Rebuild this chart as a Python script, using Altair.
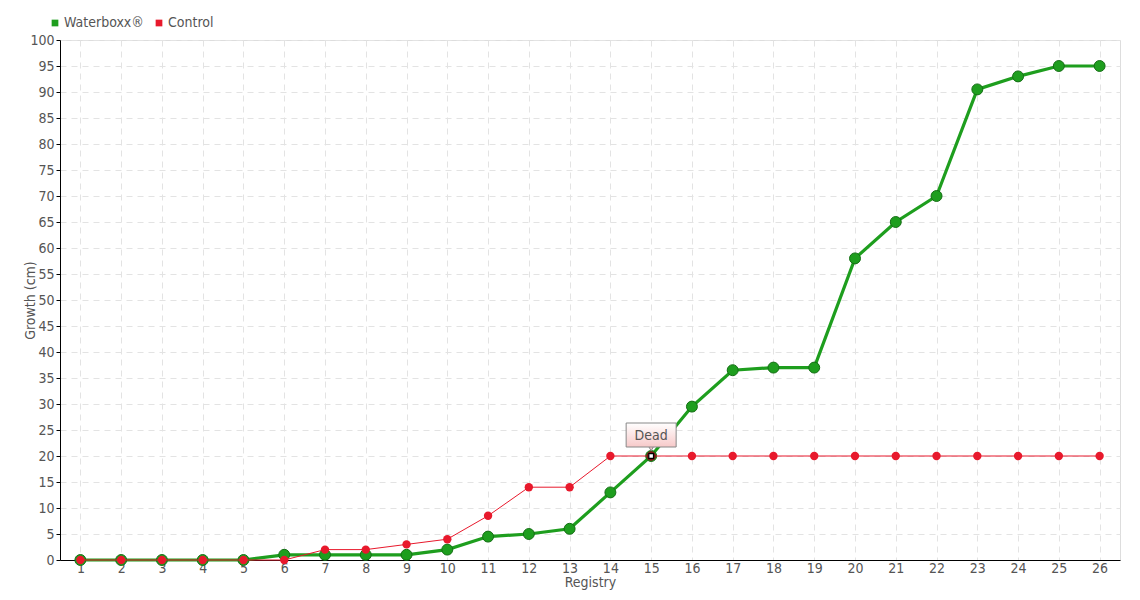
import altair as alt
import pandas as pd

registry = ["1", "2", "3", "4", "5", "6", "7", "8", "9", "10", "11", "12", "13",
            "14", "15", "16", "17", "18", "19", "20", "21", "22", "23", "24", "25", "26"]
waterboxx = [0, 0, 0, 0, 0, 1, 1, 1, 1, 2, 4.5, 5, 6, 13, 20, 29.5, 36.5, 37, 37,
             58, 65, 70, 90.5, 93, 95, 95]
control = [0, 0, 0, 0, 0, 0, 2, 2, 3, 4, 8.5, 14, 14, 20, 20, 20, 20, 20, 20,
           20, 20, 20, 20, 20, 20, 20]
series_names = ["Waterboxx®", "Control"]
series_colors = ["#1e9e1e", "#e8192c"]
y_ticks = [0, 5, 10, 15, 20, 25, 30, 35, 40, 45, 50, 55, 60, 65, 70, 75, 80, 85, 90, 95, 100]

ann_x = ["15"]
ann_y = [20]
ann_text = ["Dead"]

FONT = "DejaVu Sans Condensed, Roboto, sans-serif"
TXT = "#555555"

rows = []
for r, w in zip(registry, waterboxx):
    rows.append({"Registry": r, "Growth": w, "Series": series_names[0]})
for r, c in zip(registry, control):
    rows.append({"Registry": r, "Growth": c, "Series": series_names[1]})
df = pd.DataFrame(rows)
ann = pd.DataFrame({"Registry": ann_x, "Growth": ann_y, "Text": ann_text})

x_axis = alt.Axis(title="Registry", labelAngle=0, ticks=False,
                  grid=True, gridDash=[6, 5], gridColor="#e3e3e3",
                  domainColor="#000000", labelFont=FONT, labelFontSize=14,
                  labelColor=TXT, titleFont=FONT, titleFontSize=14,
                  titleColor=TXT, titleFontWeight="normal",
                  labelPadding=1, titlePadding=0, labelOverlap=False)
y_axis = alt.Axis(title="Growth (cm)", values=y_ticks, tickSize=4,
                  tickColor="#000000", domainColor="#000000",
                  grid=True, gridDash=[6, 5], gridColor="#e3e3e3",
                  labelFont=FONT, labelFontSize=14, labelColor=TXT,
                  labelPadding=2, titleFont=FONT, titleFontSize=14,
                  titleColor=TXT, titleFontWeight="normal",
                  titlePadding=-8, labelOverlap=False)
x_scale = alt.Scale(type="point", padding=0.5)
y_scale = alt.Scale(domain=[0, 100], nice=False)

x_enc = alt.X("Registry:O", sort=registry, scale=x_scale, axis=x_axis)
y_enc = alt.Y("Growth:Q", scale=y_scale, axis=y_axis)
color_enc = alt.Color("Series:N", scale=alt.Scale(domain=series_names, range=series_colors),
                      legend=alt.Legend(title=None, orient="none", legendX=-12, legendY=-24,
                                        direction="horizontal", symbolType="square",
                                        symbolSize=45, labelFont=FONT, labelFontSize=14,
                                        labelColor=TXT, columnPadding=8, labelOffset=2,
                                        symbolStrokeWidth=0))

base = alt.Chart(df).encode(x=x_enc, y=y_enc, color=color_enc)

green_line = base.transform_filter(alt.datum.Series == series_names[0]).mark_line(strokeWidth=3.2)
green_pts = base.transform_filter(alt.datum.Series == series_names[0]).mark_circle(
    size=120, opacity=1, stroke="#146e14", strokeWidth=1)
red_line = base.transform_filter(alt.datum.Series == series_names[1]).mark_line(strokeWidth=1)
red_pts = base.transform_filter(alt.datum.Series == series_names[1]).mark_circle(
    size=70, opacity=1)

abase = alt.Chart(ann).encode(x=x_enc, y=y_enc)
grad = alt.Gradient(gradient="linear",
                    stops=[alt.GradientStop(color="#ffffff", offset=0),
                           alt.GradientStop(color="#f7c9c9", offset=1)],
                    x1=0, x2=0, y1=0, y2=1)
dead_ring = abase.mark_point(shape="circle", size=90, filled=True, fill="#7a1212", opacity=1)
dead_sq = abase.mark_point(shape="square", size=22, filled=True, fill="#ffffff",
                           stroke="#000000", strokeWidth=1.2, opacity=1)
pointer = abase.mark_point(shape="triangle-down", size=40, filled=True, fill="#f7c9c9",
                           stroke="#888888", strokeWidth=1, opacity=1, yOffset=-8)
box = abase.mark_point(shape="M-1,-0.48H1V0.48H-1Z", size=2500, filled=True, fill=grad,
                       stroke="#888888", strokeWidth=1, opacity=1, yOffset=-21)
label = abase.mark_text(font=FONT, fontSize=14, color=TXT, yOffset=-20).encode(text="Text:N")

chart = alt.layer(green_line, green_pts, red_line, red_pts, dead_ring, dead_sq,
                  pointer, box, label).properties(
    width=1060, height=520,
    autosize=alt.AutoSizeParams(type="none"),
    padding={"left": 52, "top": 32, "right": 12, "bottom": 32},
).configure_view(stroke=None).configure(background="#ffffff")

chart.save("out.html", embed_options={"renderer": "svg", "actions": False})
